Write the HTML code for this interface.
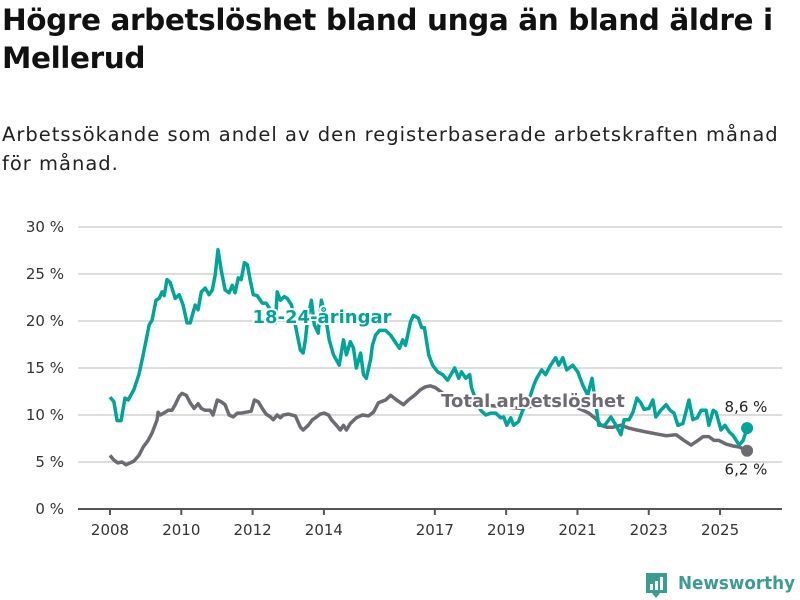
<!DOCTYPE html>
<html><head><meta charset="utf-8">
<style>
body{margin:0;width:800px;height:600px;background:#fff;font-family:"Liberation Sans","DejaVu Sans",sans-serif;overflow:hidden;position:relative}
h1{position:absolute;left:2px;top:1px;margin:0;width:798px;font-size:29.5px;line-height:38px;font-weight:bold;color:#111;font-family:"DejaVu Sans","Liberation Sans",sans-serif;letter-spacing:-0.4px}
.sub{position:absolute;left:2px;top:120px;margin:0;width:798px;white-space:nowrap;font-size:19.5px;line-height:29px;color:#222;font-family:"DejaVu Sans","Liberation Sans",sans-serif;letter-spacing:1px}
svg{position:absolute;left:0;top:0}
</style></head><body>
<h1>Högre arbetslöshet bland unga än bland äldre i Mellerud</h1>
<p class="sub">Arbetssökande som andel av den registerbaserade arbetskraften månad<br>för månad.</p>
<svg id="chart" width="800" height="600"></svg>
<script>
const yTicks=[0,5,10,15,20,25,30];
const yTickLabels=["0 %","5 %","10 %","15 %","20 %","25 %","30 %"];
const xTicks=[2008,2010,2012,2014,2017,2019,2021,2023,2025];
const youthDates=[2008.00,2008.11,2008.20,2008.31,2008.42,2008.51,2008.67,2008.81,2008.93,2009.10,2009.18,2009.29,2009.38,2009.46,2009.52,2009.60,2009.69,2009.83,2009.94,2010.05,2010.16,2010.25,2010.39,2010.47,2010.56,2010.67,2010.78,2010.87,2010.95,2011.03,2011.12,2011.23,2011.34,2011.43,2011.51,2011.60,2011.68,2011.77,2011.85,2011.93,2012.02,2012.13,2012.27,2012.38,2012.50,2012.64,2012.69,2012.78,2012.89,2012.97,2013.09,2013.23,2013.34,2013.42,2013.48,2013.54,2013.65,2013.73,2013.84,2013.93,2014.04,2014.15,2014.27,2014.43,2014.55,2014.63,2014.74,2014.83,2014.91,2015.03,2015.11,2015.19,2015.31,2015.36,2015.45,2015.56,2015.73,2015.87,2016.01,2016.12,2016.21,2016.29,2016.43,2016.51,2016.65,2016.74,2016.82,2016.94,2017.05,2017.19,2017.33,2017.47,2017.67,2017.78,2017.86,2017.98,2018.09,2018.14,2018.26,2018.40,2018.54,2018.68,2018.82,2018.96,2019.04,2019.13,2019.24,2019.32,2019.46,2019.58,2019.75,2019.89,2019.97,2020.11,2020.22,2020.36,2020.50,2020.59,2020.70,2020.81,2020.98,2021.12,2021.26,2021.40,2021.52,2021.71,2021.88,2022.05,2022.19,2022.33,2022.42,2022.56,2022.67,2022.78,2022.89,2022.98,2023.12,2023.23,2023.31,2023.45,2023.60,2023.71,2023.82,2023.93,2024.07,2024.24,2024.35,2024.47,2024.58,2024.72,2024.80,2024.92,2025.00,2025.14,2025.25,2025.37,2025.48,2025.65,2025.76,2025.87];
const youthValues=[11.9,11.4,9.4,9.4,11.8,11.6,12.7,14.3,16.4,19.6,20.1,22.2,22.4,23.1,22.7,24.4,24.1,22.4,22.8,21.7,19.8,19.8,21.7,21.2,23.1,23.5,22.8,23.3,24.9,27.6,25.4,23.3,23.0,23.8,23.0,24.6,24.4,26.2,26.0,24.4,22.8,22.7,21.9,21.9,21.2,19.8,23.1,22.2,22.6,22.4,21.7,19.0,16.9,16.6,18.0,20.1,22.2,19.6,18.7,22.2,20.6,18.0,16.4,15.3,18.0,16.4,17.8,17.1,15.0,16.6,14.3,13.9,15.9,17.4,18.5,19.0,19.0,18.5,17.7,17.1,18.0,17.4,19.9,20.6,20.3,19.3,19.3,16.4,15.3,14.6,14.3,13.7,15.0,13.9,14.6,13.9,14.3,12.9,11.6,10.5,10.0,10.2,10.2,9.7,9.8,8.9,9.7,8.9,9.3,10.5,11.6,13.2,13.9,14.8,14.3,15.3,16.1,15.3,16.1,14.8,15.3,14.6,13.2,12.1,13.9,8.9,8.9,9.8,8.9,7.9,9.5,9.5,10.3,11.8,11.3,10.6,10.7,11.6,9.8,10.5,11.1,10.5,10.2,8.9,9.1,11.6,9.5,9.7,10.5,10.5,8.9,10.5,10.3,8.4,8.9,8.2,7.8,6.8,7.3,8.6];
const totalDates=[2008.00,2008.11,2008.22,2008.34,2008.45,2008.56,2008.67,2008.81,2008.93,2009.07,2009.18,2009.32,2009.35,2009.41,2009.55,2009.63,2009.74,2009.83,2009.94,2010.02,2010.14,2010.25,2010.36,2010.47,2010.56,2010.67,2010.81,2010.89,2011.01,2011.12,2011.23,2011.34,2011.46,2011.57,2011.68,2011.82,2011.96,2012.05,2012.16,2012.27,2012.38,2012.50,2012.58,2012.69,2012.78,2012.86,2013.00,2013.20,2013.34,2013.42,2013.56,2013.68,2013.76,2013.90,2014.01,2014.13,2014.21,2014.35,2014.46,2014.55,2014.63,2014.74,2014.91,2015.08,2015.25,2015.39,2015.53,2015.73,2015.87,2016.04,2016.23,2016.37,2016.54,2016.71,2016.85,2016.99,2017.13,2017.41,2017.83,2018.40,2018.96,2019.52,2020.36,2020.93,2021.43,2021.66,2021.77,2021.94,2022.11,2022.33,2022.56,2022.78,2023.03,2023.31,2023.60,2023.88,2024.10,2024.30,2024.49,2024.64,2024.80,2024.94,2025.08,2025.28,2025.48,2025.65,2025.87];
const totalValues=[5.7,5.2,4.9,5.0,4.7,4.9,5.1,5.7,6.6,7.3,8.1,9.5,10.3,10.0,10.3,10.5,10.5,11.1,12.0,12.3,12.1,11.3,10.7,11.2,10.7,10.5,10.5,10.0,11.6,11.4,11.1,10.0,9.8,10.2,10.2,10.3,10.4,11.6,11.4,10.7,10.1,9.8,9.5,10.0,9.7,10.0,10.1,9.9,8.7,8.4,8.9,9.5,9.7,10.1,10.2,10.0,9.5,8.9,8.4,8.9,8.4,9.1,9.7,10.0,9.9,10.3,11.3,11.6,12.1,11.6,11.1,11.6,12.1,12.7,13.0,13.1,12.9,12.1,11.6,11.1,10.9,10.7,11.3,11.1,10.2,9.5,8.9,8.7,8.7,8.9,8.6,8.4,8.2,8.0,7.8,7.9,7.3,6.8,7.3,7.7,7.7,7.3,7.3,6.9,6.7,6.6,6.2];

const NS="http://www.w3.org/2000/svg";
const svg=document.getElementById('chart');
const X0=110,PX=35.65,Y0=509,PY=9.4;
const xS=d=>X0+(d-2008)*PX, yS=v=>Y0-v*PY;
function mk(tag,attrs,parent){const e=document.createElementNS(NS,tag);for(const k in attrs)e.setAttribute(k,attrs[k]);(parent||svg).appendChild(e);return e;}
const FONT='"DejaVu Sans","Liberation Sans",sans-serif';
yTicks.forEach((t,i)=>{
  if(t>0){const g=mk('line',{x1:78,x2:782,y1:yS(t),y2:yS(t),stroke:'#dddddd','stroke-width':2});
  
  }
  const l=mk('text',{x:64,y:yS(t)+5,'text-anchor':'end','font-size':15,fill:'#333','font-family':FONT});
  l.textContent=yTickLabels[i];
  
  
});
const ax=mk('line',{x1:78,x2:782,y1:Y0,y2:Y0,stroke:'#555','stroke-width':2});


xTicks.forEach(t=>{
  const x=xS(t)+(t>=2017?4:0);
  const tk=mk('line',{x1:x,x2:x,y1:Y0,y2:Y0+6,stroke:'#555','stroke-width':2});
  
  
  const l=mk('text',{x:x,y:535,'text-anchor':'middle','font-size':15,fill:'#333','font-family':FONT});
  l.textContent=t;
  
  
});
function path(dates,vals){return dates.map((d,i)=>(i?'L':'M')+xS(d).toFixed(1)+','+yS(vals[i]).toFixed(1)).join('');}
const gl=mk('path',{d:path(totalDates,totalValues),fill:'none',stroke:'#6d6a72','stroke-width':3.5,'stroke-linejoin':'round'});


const tl=mk('path',{d:path(youthDates,youthValues),fill:'none',stroke:'#00a597','stroke-width':3.5,'stroke-linejoin':'round'});


const ly=youthDates.length-1, lt=totalDates.length-1;
const d1=mk('circle',{cx:xS(youthDates[ly]),cy:yS(youthValues[ly]),r:6,fill:'#00a597'});


const d2=mk('circle',{cx:xS(totalDates[lt]),cy:yS(totalValues[lt]),r:6,fill:'#6d6a72'});


const e1=mk('text',{x:746,y:yS(youthValues[ly])-16,'text-anchor':'middle','font-size':15,fill:'#222','font-family':FONT});
e1.textContent=youthValues[ly].toFixed(1).replace('.',',')+' %';


const e2=mk('text',{x:746,y:yS(totalValues[lt])+24,'text-anchor':'middle','font-size':15,fill:'#222','font-family':FONT});
e2.textContent=totalValues[lt].toFixed(1).replace('.',',')+' %';


const s1=mk('text',{x:322,y:323,'text-anchor':'middle','font-size':18,'font-weight':'bold',fill:'#00a597',stroke:'#fff','stroke-width':4,'paint-order':'stroke','font-family':FONT});
s1.textContent='18-24-åringar';


const s2=mk('text',{x:533,y:407,'text-anchor':'middle','font-size':18,'font-weight':'bold',fill:'#6d6a72',stroke:'#fff','stroke-width':4,'paint-order':'stroke','font-family':FONT});
s2.textContent='Total arbetslöshet';


// logo
const lg=mk('g',{});


mk('path',{d:'M646,573 h21 v20 h-7 l-4,5 l-4,-5 h-6 z',fill:'#3b9c92'},lg);
mk('rect',{x:650,y:584,width:3,height:6,fill:'#fff'},lg);
mk('rect',{x:655,y:581,width:3,height:9,fill:'#fff'},lg);
mk('rect',{x:660,y:577,width:3,height:13,fill:'#fff'},lg);
const lt2=mk('text',{x:678,y:589,'font-size':18,'font-weight':'bold',fill:'#3b9c92','font-family':FONT,textLength:117,lengthAdjust:'spacingAndGlyphs'},lg);
lt2.textContent='Newsworthy';
</script>
</body></html>
